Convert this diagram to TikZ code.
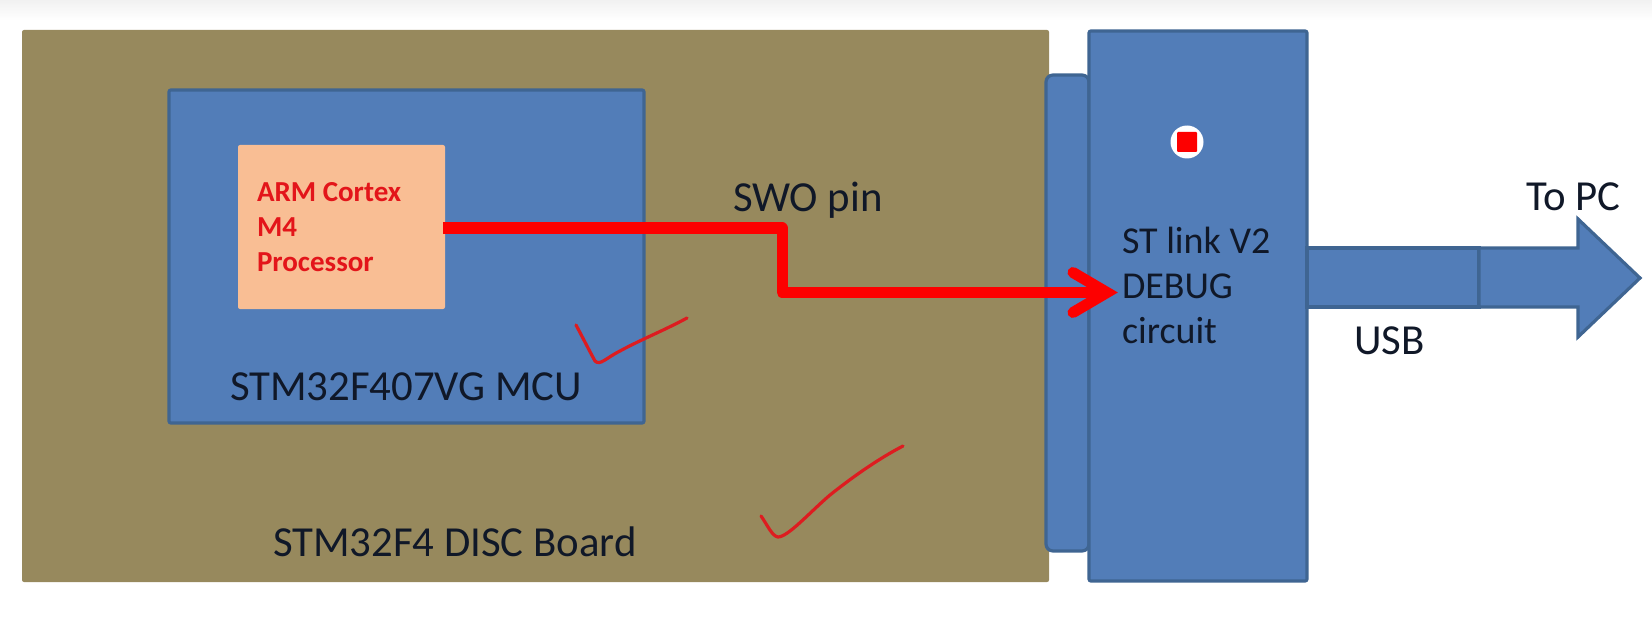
\documentclass[tikz,border=0pt]{standalone}
\usepackage{fontspec}
\setmainfont{Carlito}
\usetikzlibrary{arrows.meta}
\definecolor{boardc}{HTML}{97895D}
\definecolor{bluec}{HTML}{527DB8}
\definecolor{edgec}{HTML}{3F6592}
\definecolor{cpuc}{HTML}{F9BE94}
\definecolor{inkc}{HTML}{101828}
\definecolor{redc}{HTML}{FD0000}
\definecolor{cputext}{HTML}{E3151A}
\definecolor{penc}{HTML}{DD1C20}
\definecolor{bandc}{HTML}{F1F1F1}
\tikzset{
  x=1bp,y=-1bp,
  block/.style={draw=edgec,line width=3.2bp,fill=bluec,rounded corners=2bp,anchor=north west,inner sep=0pt,outer sep=0pt},
  boardbox/.style={fill=boardc,rounded corners=2bp,anchor=north west,inner sep=0pt,outer sep=0pt},
  cpubox/.style={fill=cpuc,rounded corners=2bp,anchor=north west,inner sep=0pt,outer sep=0pt},
  lbl/.style={anchor=base west,inner sep=0pt,outer sep=0pt,text=inkc,font=\fontsize{42.8bp}{42.8bp}\selectfont},
  stlbl/.style={anchor=base west,inner sep=0pt,outer sep=0pt,text=inkc,font=\fontsize{38bp}{38bp}\selectfont},
  cpulbl/.style={anchor=base west,inner sep=0pt,outer sep=0pt,text=cputext,font=\fontsize{29bp}{29bp}\selectfont\bfseries},
  wire/.style={draw=redc,line width=11bp},
  pen/.style={draw=penc,line width=3.2bp,line cap=round,line join=round},
}
\begin{document}
\begin{tikzpicture}
\useasboundingbox (0,0) rectangle (1652,633);
\shade[top color=bandc,bottom color=white] (0,0) rectangle (1652,20);
\node[boardbox,minimum width=1027bp,minimum height=552bp] (board) at (22,30) {};
\node[block,minimum width=475bp,minimum height=333bp] (mcu) at (169,90) {};
\node[cpubox,minimum width=207bp,minimum height=164bp] (cpu) at (238,145) {};
\node[block,rounded corners=7bp,minimum width=43bp,minimum height=476bp] (conn) at (1046,75) {};
\node[block,minimum width=218bp,minimum height=550bp] (stlink) at (1089,31) {};
\node[block,rounded corners=0pt,minimum width=172bp,minimum height=59bp] (usb) at (1307,248) {};
% arrow to PC
\draw[draw=edgec,line width=3.2bp,fill=bluec,line join=miter]
  (usb.north east) -- (1578,248) -- (1578,219) -- (1640,278) -- (1578,337) -- (1578,307) -- (usb.south east) -- cycle;
% LED
\node[circle,fill=white,minimum size=33bp,inner sep=0pt] (ledring) at (1187,142) {};
\node[fill=redc,minimum size=20bp,inner sep=0pt,rounded corners=1bp] (led) at (ledring) {};
% labels
\node[cpulbl] (t1) at (257,202) {ARM Cortex};
\node[cpulbl] (t2) at (257,237) {M4};
\node[cpulbl] (t3) at (257,271) {Processor};
\node[lbl] (mculbl) at (230,400) {STM32F407VG MCU};
\node[lbl] (boardlbl) at (273,556) {STM32F4 DISC Board};
\node[lbl] (swo) at (733,212) {SWO pin};
\node[stlbl] (s1) at (1122,253) {ST link V2};
\node[stlbl] (s2) at (1122,298) {DEBUG};
\node[stlbl] (s3) at (1122,343) {circuit};
\node[lbl] (topc) at (1526,211) {To PC};
\node[lbl] (usblbl) at (1354,354) {USB};
% SWO wire
\coordinate (wa) at (443,228);
\coordinate (wb) at (782,228);
\coordinate (wc) at (782,292.5);
\coordinate (tip) at (1107,292.5);
\coordinate (b1) at (1073,272.5);
\coordinate (b2) at (1073,312.5);
\draw[wire,line join=round] (wa) -- (wb) -- (wc) -- (tip);
\draw[wire,line cap=round,line join=miter] (b1) -- (tip) -- (b2);
% ticks
\draw[pen] (576,325) .. controls (584,340) and (590,352) .. (595,361) .. controls (600,366) and (606,358) .. (620,351) .. controls (640,340) and (665,330) .. (687,318);
\draw[pen] (761,516) .. controls (768,526) and (772,536) .. (778,537) .. controls (788,537) and (810,512) .. (830,495) .. controls (855,475) and (880,458) .. (903,446);
\end{tikzpicture}
\end{document}
